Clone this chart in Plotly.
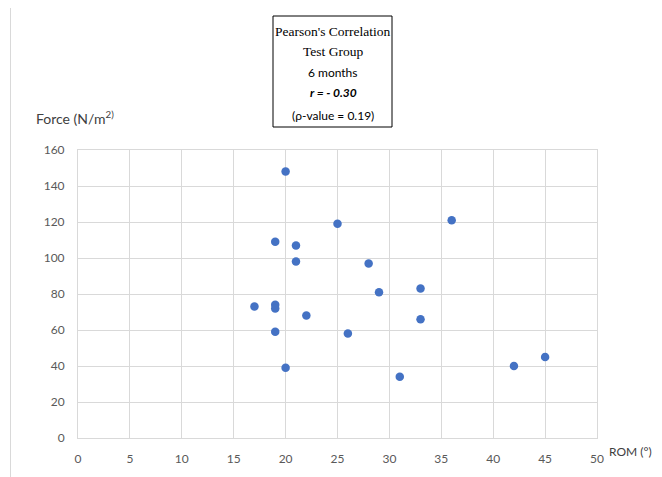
import plotly.graph_objects as go

rom = [20, 19, 21, 25, 36, 21, 28, 29, 33, 17, 19, 19, 22, 33, 19, 26, 20, 31, 42, 45]
force = [148, 109, 107, 119, 121, 98, 97, 81, 83, 73, 74, 72, 68, 66, 59, 58, 39, 34, 40, 45]
x_ticks = [0, 5, 10, 15, 20, 25, 30, 35, 40, 45, 50]
y_ticks = [0, 20, 40, 60, 80, 100, 120, 140, 160]

# page body has an 8px default margin; work in window pixels and offset
OFF = 8
W, H = 662 - OFF, 477 - OFF
L, R, T, B = 78, 597, 150, 438


def px(x):
    return (x - L) / (R - L)


def py(y):
    return (B - y) / (B - T)


fig = go.Figure()
fig.add_trace(go.Scatter(x=rom, y=force, mode="markers",
                         marker=dict(color="#4472C4", size=8.5, line=dict(width=0)),
                         showlegend=False, hoverinfo="x+y"))

tickfont = dict(family="Lato, Liberation Sans, sans-serif", size=12, color="#595959")
grid = "#d9d9d9"
fig.update_xaxes(range=[0, 50], tickvals=x_ticks, ticktext=[str(v) for v in x_ticks],
                 showgrid=True, gridcolor=grid, gridwidth=1, zeroline=False,
                 showline=True, linecolor=grid, mirror=True, ticks="",
                 tickfont=tickfont, ticklabelstandoff=10)
fig.update_yaxes(range=[0, 160], tickvals=y_ticks, ticktext=[str(v) for v in y_ticks],
                 showgrid=True, gridcolor=grid, gridwidth=1, zeroline=False,
                 showline=True, linecolor=grid, mirror=True, ticks="",
                 tickfont=tickfont, ticklabelstandoff=10)

serif = "Liberation Serif, Times New Roman, serif"
sans = "Lato, Liberation Sans, sans-serif"
cx = px(333)
ann = [
    ("Pearson's Correlation", 31, dict(family=serif, size=13.5, color="#000000")),
    ("Test Group", 51, dict(family=serif, size=13.5, color="#000000")),
    ("6 months", 72, dict(family=sans, size=12, color="#000000")),
    ("<b><i>r = - 0.30</i></b>", 93, dict(family=sans, size=12, color="#000000")),
    ("(ρ-value = 0.19)", 115, dict(family=sans, size=12, color="#000000")),
]
annotations = []
for text, y, f in ann:
    annotations.append(dict(text=text, x=cx, y=py(y), xref="paper", yref="paper",
                            xanchor="center", yanchor="middle", showarrow=False, font=f))
annotations.append(dict(text="Force (N/m<sup>2)</sup>", x=px(34), y=py(117), xref="paper", yref="paper",
                        xanchor="left", yanchor="middle", showarrow=False,
                        font=dict(family=sans, size=14, color="#404040")))
annotations.append(dict(text="ROM (°)", x=px(607), y=py(451), xref="paper", yref="paper",
                        xanchor="left", yanchor="middle", showarrow=False,
                        font=dict(family=sans, size=12, color="#404040")))

shapes = [
    dict(type="rect", xref="paper", yref="paper", x0=px(10.5), x1=px(664), y0=py(482), y1=py(6.5),
         line=dict(color="#d9d9d9", width=1), fillcolor="rgba(0,0,0,0)", layer="below"),
    dict(type="rect", xref="paper", yref="paper", x0=px(273), x1=px(392), y0=py(127), y1=py(16),
         line=dict(color="#000000", width=1), fillcolor="rgba(0,0,0,0)"),
]

fig.update_layout(width=W, height=H,
                  margin=dict(l=L - OFF, r=662 - R, t=T - OFF, b=477 - B, autoexpand=False),
                  paper_bgcolor="white", plot_bgcolor="white",
                  annotations=annotations, shapes=shapes)

fig.write_html("out.html")
